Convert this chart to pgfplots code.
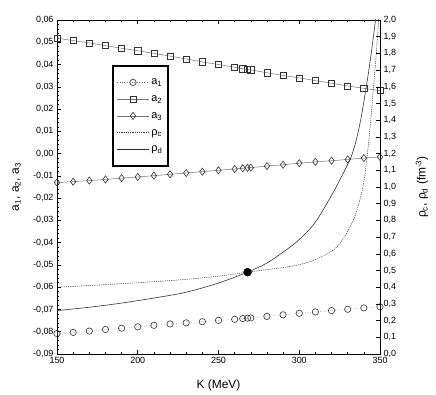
\documentclass[border=0pt]{standalone}
\usepackage{pgfplots}
\pgfplotsset{compat=1.18}
\usepackage{fontspec}
\setmainfont{Liberation Sans}
\definecolor{lgray}{gray}{0.45}
\definecolor{mgray}{gray}{0.2}
\pgfplotstableread{
K a1 a2 a3
150 -0.0808 0.0518 -0.0130
160 -0.0803 0.0508 -0.0126
170 -0.0797 0.0497 -0.0121
180 -0.0790 0.0485 -0.0116
190 -0.0784 0.0473 -0.0110
200 -0.0778 0.0462 -0.0105
210 -0.0771 0.0450 -0.0099
220 -0.0765 0.0438 -0.0093
230 -0.0760 0.0425 -0.0087
240 -0.0755 0.0412 -0.0081
250 -0.0749 0.0400 -0.0075
260 -0.0744 0.0388 -0.0069
265 -0.0741 0.0381 -0.0066
268 -0.0739 0.0377 -0.0064
270 -0.0738 0.0376 -0.0063
280 -0.0731 0.0363 -0.0056
290 -0.0724 0.0351 -0.0050
300 -0.0717 0.0340 -0.0043
310 -0.0711 0.0328 -0.0037
320 -0.0705 0.0316 -0.0032
330 -0.0699 0.0304 -0.0026
340 -0.0693 0.0293 -0.0020
350 -0.0688 0.0283 -0.0015
}\adata
\pgfplotstableread{
K rho
150 0.400
170 0.410
190 0.421
210 0.433
230 0.447
250 0.466
268 0.490
280 0.505
290 0.518
300 0.535
310 0.565
320 0.615
325 0.660
330 0.735
332.5 0.780
335 0.840
338 0.940
340 1.030
342 1.180
344 1.370
346 1.600
348 1.840
349.3 2.020
}\rhoc
\pgfplotstableread{
K rho
150 0.260
170 0.280
190 0.305
210 0.335
230 0.370
250 0.425
268 0.490
280 0.545
290 0.610
300 0.685
310 0.790
320 0.950
325 1.040
330 1.135
332.5 1.190
335 1.270
338 1.400
341 1.570
344 1.760
347.5 2.020
}\rhod
\begin{document}
\begin{tikzpicture}[x=1bp,y=1bp]
\path[use as bounding box] (-57,-40) rectangle (379,354);
\begin{axis}[
  at={(0,0)}, anchor=south west, scale only axis,
  width=323bp, height=334bp,
  xmin=150, xmax=350, ymin=-0.09, ymax=0.06,
  xtick={150,200,250,300,350}, minor x tick num=4,
  ytick={-0.09,-0.08,-0.07,-0.06,-0.05,-0.04,-0.03,-0.02,-0.01,0,0.01,0.02,0.03,0.04,0.05,0.06},
  minor y tick num=4,
  ytick pos=left, xtick pos=both,
  tick align=inside,
  major tick length=4bp, minor tick length=2.2bp,
  axis line style={line width=0.8bp},
  every tick/.style={black, line width=0.6bp},
  tick label style={font=\fontsize{9}{10}\selectfont},
  xticklabel style={/pgf/number format/assume math mode=true},
  yticklabel style={/pgf/number format/.cd, fixed, fixed zerofill, precision=2, use comma, assume math mode=true},
  scaled y ticks=false,
  xlabel={K (MeV)},
  ylabel={a\textsubscript{1}, a\textsubscript{2}, a\textsubscript{3}},
  label style={font=\fontsize{12}{14}\selectfont},
  xlabel style={at={(axis description cs:0.5,-0.093)}, anchor=center},
  ylabel style={at={(axis description cs:-0.125,0.5)}, anchor=center},
  legend style={at={(0.17,0.865)}, anchor=north west, draw=black, line width=1.6bp,
    fill=white, font=\fontsize{11}{12}\selectfont, row sep=1.75bp, inner xsep=4bp, inner ysep=9bp,
    nodes={text height=8bp, text depth=3bp, inner ysep=2bp}},
  legend cell align=left,
  legend image code/.code={\draw[mark repeat=2,mark phase=2] plot coordinates {(0bp,0bp)(16bp,0bp)(32bp,0bp)};},
]
\addplot[lgray, line width=0.5bp, dotted, mark=o, mark size=3.2pt,
  mark options={solid, draw=mgray, fill=white, line width=0.6bp}] table[x=K,y=a1] {\adata};
\addlegendentry{a\textsubscript{1}}
\addplot[lgray, line width=0.5bp, mark=square, mark size=3.1pt,
  mark options={solid, draw=mgray, fill=white, line width=0.6bp}] table[x=K,y=a2] {\adata};
\addlegendentry{a\textsubscript{2}}
\addplot[lgray, line width=0.5bp, mark=diamond, mark size=3.6pt,
  mark options={solid, draw=mgray, fill=white, line width=0.6bp}] table[x=K,y=a3] {\adata};
\addlegendentry{a\textsubscript{3}}
\addlegendimage{mgray, line width=0.5bp, dash pattern=on 1.2bp off 1bp}
\addlegendentry{ρ\textsubscript{c}}
\addlegendimage{mgray, line width=0.6bp}
\addlegendentry{ρ\textsubscript{d}}
\end{axis}
\begin{axis}[
  at={(0,0)}, anchor=south west, scale only axis,
  width=323bp, height=334bp,
  xmin=150, xmax=350, ymin=0, ymax=2,
  axis y line*=right, axis x line=none,
  ytick={0,0.1,0.2,0.3,0.4,0.5,0.6,0.7,0.8,0.9,1.0,1.1,1.2,1.3,1.4,1.5,1.6,1.7,1.8,1.9,2.0},
  tick align=inside, major tick length=4bp,
  axis line style={line width=0.8bp},
  every tick/.style={black, line width=0.6bp},
  tick label style={font=\fontsize{9}{10}\selectfont},
  yticklabel style={/pgf/number format/.cd, fixed, fixed zerofill, precision=1, use comma, assume math mode=true},
  ylabel={ρ\textsubscript{c}, ρ\textsubscript{d} (fm\textsuperscript{-3})},
  label style={font=\fontsize{12}{14}\selectfont},
  ylabel style={at={(axis description cs:1.13,0.5)}, anchor=center},
]
\addplot[mgray, line width=0.5bp, dash pattern=on 1.2bp off 1bp, smooth] table[x=K,y=rho] {\rhoc};
\addplot[mgray, line width=0.6bp, smooth] table[x=K,y=rho] {\rhod};
\addplot[only marks, mark=*, mark size=4pt, black] coordinates {(268,0.49)};
\end{axis}
\end{tikzpicture}
\end{document}
